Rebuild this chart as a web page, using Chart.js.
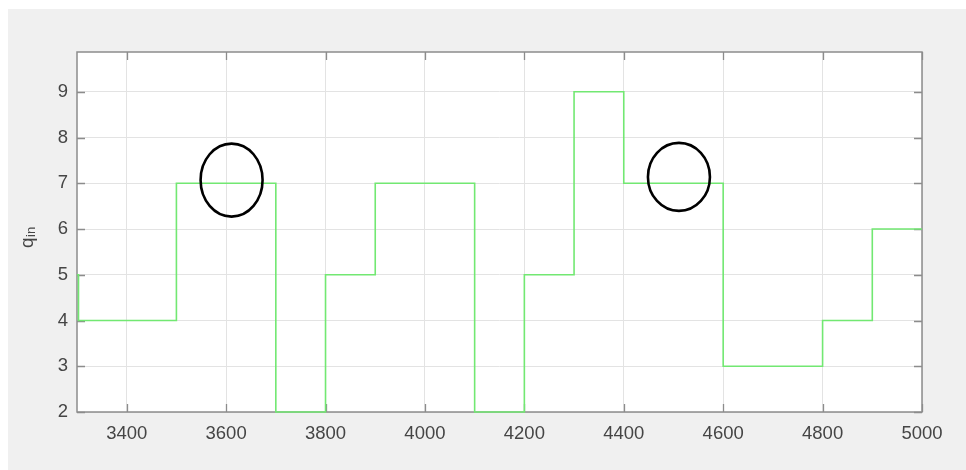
<!DOCTYPE html>
<html>
<head>
<meta charset="utf-8">
<script src="https://cdn.jsdelivr.net/npm/chart.js@4/dist/chart.umd.min.js"></script>
<style>
  html, body { margin: 0; padding: 0; background: #ffffff; }
  #panel { position: absolute; left: 8px; top: 9px; width: 958px; height: 461px; background: #f0f0f0; }
  canvas { display: block; }
</style>
</head>
<body>
<div id="panel"><canvas id="chart" width="958" height="461"></canvas></div>
<script>
// Step times and inflow levels q_in (value holds until the next time)
const times = [3300, 3303, 3500, 3700, 3800, 3900, 4100, 4200, 4300, 4400, 4600, 4800, 4900, 5000];
const qIn   = [5,    4,    7,    2,    5,    7,    2,    5,    9,    7,    3,    4,    6,    6];

// Axis tick values
const xTicks = [3400, 3600, 3800, 4000, 4200, 4400, 4600, 4800, 5000];
const yTicks = [2, 3, 4, 5, 6, 7, 8, 9];

// Circled spots on the q_in = 7 plateaus (data coordinates)
const circledX = [3611, 4511];
const circledY = [7.07, 7.14];

const tickColor = '#454545';
const boxColor = '#8c8c8c';
const font = { family: '"Liberation Sans", Arial, sans-serif', size: 18.5 };

// White plot area on the grey figure background
const plotBackground = {
  id: 'plotBackground',
  beforeDraw(chart) {
    const { ctx, chartArea: a } = chart;
    ctx.save();
    ctx.fillStyle = '#ffffff';
    ctx.fillRect(a.left, a.top, a.right - a.left, a.bottom - a.top);
    ctx.restore();
  }
};

// Axes box with inward tick marks on all four sides
const axesBox = {
  id: 'axesBox',
  beforeDatasetsDraw(chart) {
    const { ctx, chartArea: a, scales: { x, y } } = chart;
    ctx.save();
    ctx.strokeStyle = boxColor;
    ctx.lineWidth = 1.3;
    ctx.beginPath();
    xTicks.forEach(v => {
      const px = Math.round(x.getPixelForValue(v)) + 0.5;
      ctx.moveTo(px, a.bottom); ctx.lineTo(px, a.bottom - 8);
      ctx.moveTo(px, a.top);    ctx.lineTo(px, a.top + 8);
    });
    yTicks.forEach(v => {
      const py = Math.round(y.getPixelForValue(v)) + 0.5;
      ctx.moveTo(a.left, py);  ctx.lineTo(a.left + 8, py);
      ctx.moveTo(a.right, py); ctx.lineTo(a.right - 8, py);
    });
    ctx.stroke();
    ctx.lineWidth = 1.5;
    ctx.strokeRect(a.left, a.top, a.right - a.left, a.bottom - a.top);
    ctx.restore();
  }
};

// Black ellipse markers
const ellipses = {
  id: 'ellipses',
  afterDatasetsDraw(chart, args, opts) {
    const { ctx, scales: { x, y } } = chart;
    ctx.save();
    ctx.strokeStyle = opts.color;
    ctx.lineWidth = opts.lineWidth;
    circledX.forEach((cx, i) => {
      ctx.beginPath();
      ctx.ellipse(x.getPixelForValue(cx), y.getPixelForValue(circledY[i]),
                  opts.rx[i], opts.ry[i], 0, 0, Math.PI * 2);
      ctx.stroke();
    });
    ctx.restore();
  }
};

// Rotated y-axis title "q" with subscript "in"
const yTitle = {
  id: 'yTitle',
  afterDraw(chart) {
    const ctx = chart.ctx;
    ctx.save();
    ctx.translate(25, 239);
    ctx.rotate(-Math.PI / 2);
    ctx.fillStyle = tickColor;
    ctx.textAlign = 'left';
    ctx.textBaseline = 'alphabetic';
    ctx.font = '19px "Liberation Sans", Arial, sans-serif';
    ctx.fillText('q', 0, 0);
    const w = ctx.measureText('q').width;
    ctx.font = '13px "Liberation Sans", Arial, sans-serif';
    ctx.fillText('in', w + 0.5, 2);
    ctx.restore();
  }
};

new Chart(document.getElementById('chart'), {
  type: 'line',
  data: {
    datasets: [{
      data: times.map((t, i) => ({ x: t, y: qIn[i] })),
      stepped: 'before',
      borderColor: '#72e872',
      borderWidth: 1.6,
      pointRadius: 0,
      fill: false,
      clip: false
    }]
  },
  options: {
    responsive: false,
    animation: false,
    events: [],
    layout: { padding: { left: 0, top: 43, right: 44, bottom: 0 } },
    plugins: {
      legend: { display: false },
      tooltip: { enabled: false },
      ellipses: { color: '#000000', lineWidth: 2.6, rx: [31, 31], ry: [36.5, 34] }
    },
    scales: {
      x: {
        type: 'linear',
        min: 3300,
        max: 5000,
        afterBuildTicks: s => { s.ticks = xTicks.map(v => ({ value: v })); },
        afterFit: s => { s.height = 58; },
        border: { display: false },
        grid: { color: '#e3e3e3', lineWidth: 1, drawTicks: false },
        ticks: { color: tickColor, font, padding: 11, maxRotation: 0, autoSkip: false,
                 callback: v => String(v) }
      },
      y: {
        type: 'linear',
        min: 2,
        max: 9.87,
        afterBuildTicks: s => { s.ticks = yTicks.map(v => ({ value: v })); },
        afterFit: s => { s.width = 69; },
        border: { display: false },
        grid: { color: '#e3e3e3', lineWidth: 1, drawTicks: false },
        ticks: { color: tickColor, font, padding: 9, callback: v => String(v) }
      }
    }
  },
  plugins: [plotBackground, axesBox, ellipses, yTitle]
});
</script>
</body>
</html>
